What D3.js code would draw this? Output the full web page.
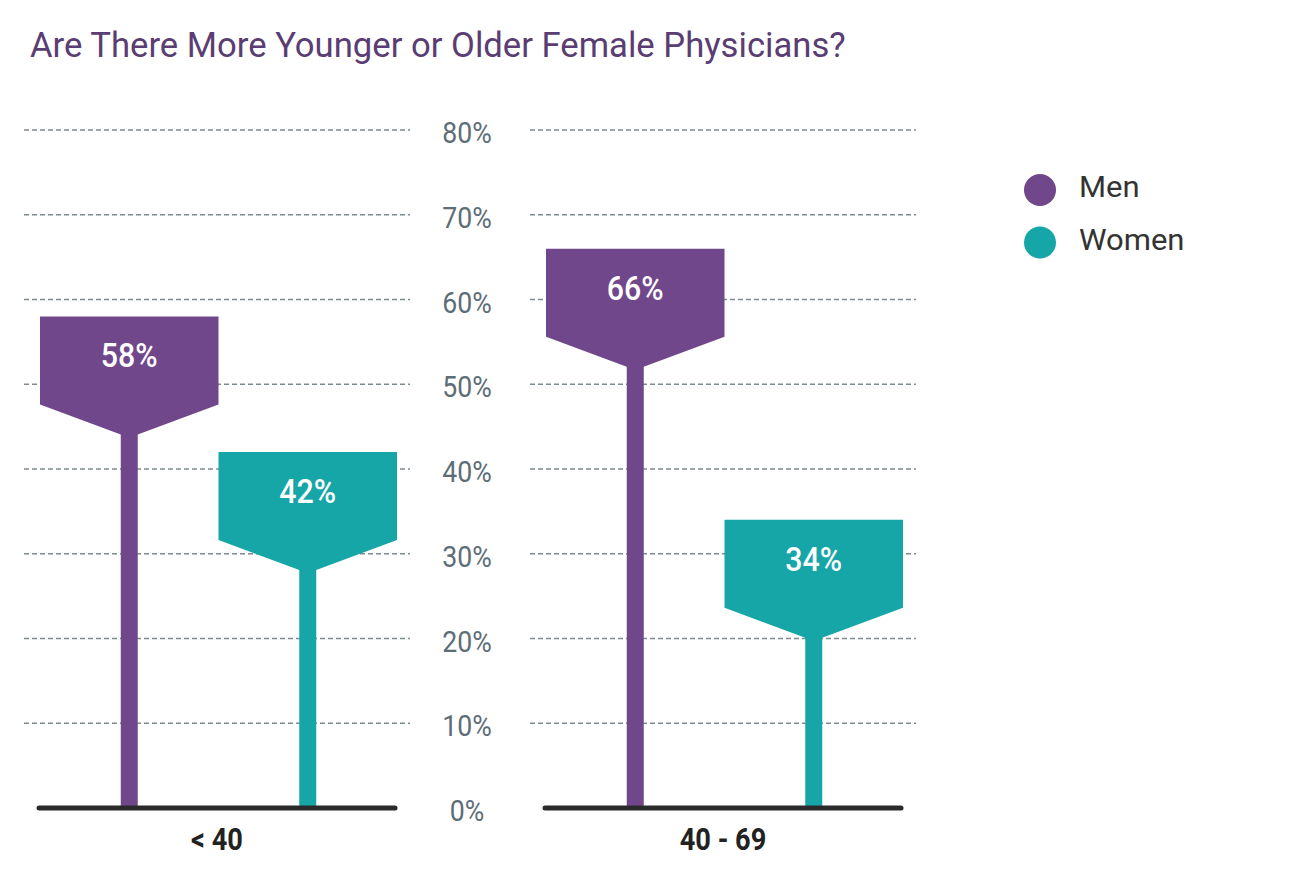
<!DOCTYPE html>
<html><head><meta charset="utf-8">
<script src="https://cdn.jsdelivr.net/npm/d3@7"></script>
<style>
body{margin:0;background:#fff;}
svg{display:block;}
</style></head>
<body>
<svg id="chart" width="1290" height="878"></svg>
<script>
const categories = ["< 40", "40 - 69"];
const series = ["Men", "Women"];
const menValues = [58, 66];
const womenValues = [42, 34];
const yTicks = [0, 10, 20, 30, 40, 50, 60, 70, 80];
const title = "Are There More Younger or Older Female Physicians?";

const colors = {Men: "#71478c", Women: "#17a6a8"};
const svg = d3.select("#chart");

const y = d3.scaleLinear().domain([0, 80]).range([808, 130]);
const x0 = d3.scaleBand().domain(categories).range([37, 903]).paddingInner(146/506);
const x1 = d3.scaleBand().domain(series).range([3, 360]);
const color = d3.scaleOrdinal().domain(series).range([colors.Men, colors.Women]);

const data = categories.map((c, i) => ({cat: c, vals: [{s: "Men", v: menValues[i]}, {s: "Women", v: womenValues[i]}]}));

// title
svg.append("text")
  .attr("transform", "translate(30,57) scale(0.99,1)")
  .attr("font-family", "Roboto, sans-serif")
  .attr("font-size", 35)
  .attr("fill", "#5a3d72")
  .text(title);

const panels = svg.selectAll("g.panel").data(data).join("g")
  .attr("class", "panel")
  .attr("transform", d => `translate(${x0(d.cat)},0)`);

panels.selectAll("line.grid").data(yTicks.filter(t => t > 0)).join("line")
  .attr("class", "grid")
  .attr("x1", -13).attr("x2", x0.bandwidth() + 13)
  .attr("y1", d => y(d)).attr("y2", d => y(d))
  .attr("stroke", "#7d8b90").attr("stroke-width", 1.3)
  .attr("stroke-dasharray", "5,3");

// y tick labels between panels
const labelX = 467;
svg.selectAll("text.ytick").data(yTicks).join("text")
  .attr("class", "ytick")
  .attr("transform", d => `translate(${labelX},${y(d) + 13}) scale(0.92,1)`)
  .attr("text-anchor", "middle")
  .attr("font-family", "Roboto, sans-serif")
  .attr("font-size", 29)
  .attr("fill", "#5d6d76")
  .text(d => d + "%");

const rectH = 88, taper = 30, stemW = 17;
const bars = panels.selectAll("g.bar").data(d => d.vals).join("g")
  .attr("class", "bar");

bars.append("path")
  .attr("fill", d => color(d.s))
  .attr("d", d => {
    const l = x1(d.s), r = l + x1.bandwidth(), cx = l + x1.bandwidth()/2;
    const t = y(d.v), b = t + rectH, sb = y(0);
    return `M${l},${t}L${r},${t}L${r},${b}L${cx + stemW/2},${b + taper}L${cx + stemW/2},${sb}L${cx - stemW/2},${sb}L${cx - stemW/2},${b + taper}L${l},${b}Z`;
  });

bars.append("text")
  .attr("transform", d => `translate(${x1(d.s) + x1.bandwidth()/2},${y(d.v) + 51}) scale(0.92,1)`)
  .attr("text-anchor", "middle")
  .attr("font-family", "Roboto, sans-serif")
  .attr("font-weight", 500)
  .attr("font-size", 33)
  .attr("fill", "#ffffff")
  .text(d => d.v + "%");

// baseline
panels.append("line")
  .attr("x1", 2).attr("x2", x0.bandwidth() - 2)
  .attr("y1", y(0)).attr("y2", y(0))
  .attr("stroke", "#2a2a2a").attr("stroke-width", 5)
  .attr("stroke-linecap", "round");

// category labels
panels.append("text")
  .attr("transform", d => `translate(${x0.bandwidth()/2},850) scale(0.85,1)`)
  .attr("text-anchor", "middle")
  .attr("font-family", "Roboto, sans-serif")
  .attr("font-weight", 700)
  .attr("font-size", 32)
  .attr("fill", "#222")
  .text(d => d.cat);

// legend
const legend = svg.selectAll("g.legend").data(series).join("g")
  .attr("class", "legend")
  .attr("transform", (d, i) => `translate(1040,${190 + i * 52.5})`);
legend.append("circle").attr("r", 16).attr("fill", d => color(d));
legend.append("text")
  .attr("transform", "translate(39,7) scale(1.07,1)")
  .attr("font-family", "Roboto, sans-serif")
  .attr("font-size", 29)
  .attr("fill", "#333")
  .text(d => d);
</script>
</body></html>
